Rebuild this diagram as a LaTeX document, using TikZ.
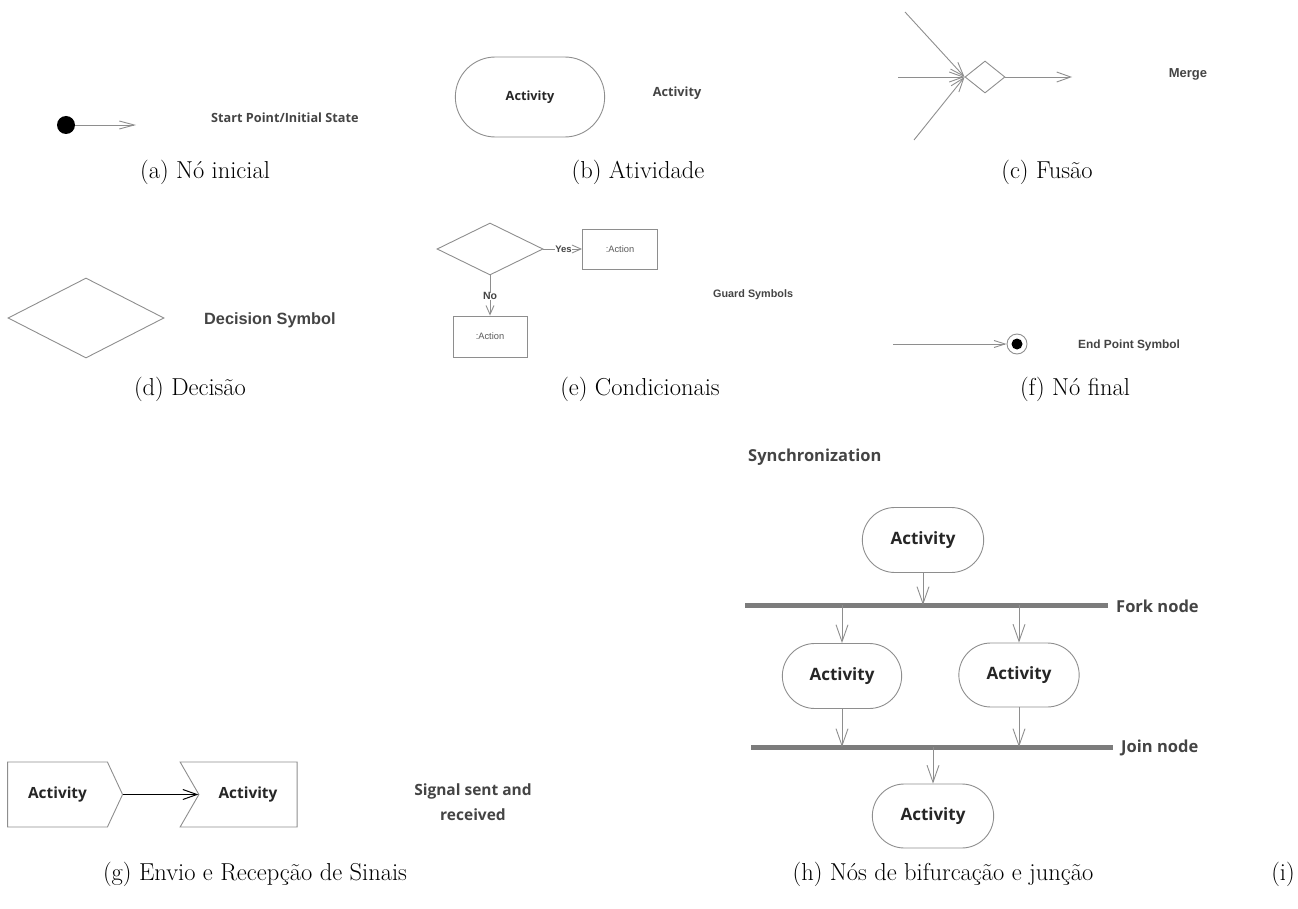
\documentclass[tikz,border=0pt]{standalone}
\usepackage{fontspec}
\usetikzlibrary{arrows.meta,shapes.geometric,shapes.misc,shapes.symbols}
\newfontfamily\uisans{Open Sans}
\newfontfamily\arial{Liberation Sans}
\definecolor{linegray}{HTML}{8E8E8E}
\definecolor{bargray}{HTML}{7C7C7C}
\definecolor{txt}{HTML}{444444}
\definecolor{acttxt}{HTML}{5A5A5A}

\begin{document}
\begin{tikzpicture}[x=1pt,y=-1pt,
  flow/.style={draw=linegray, line width=0.9pt,
    -{Straight Barb[length=14pt,width=10pt,line width=0.9pt]}},
  activity/.style={rounded rectangle, draw=linegray, line width=0.9pt,
    minimum width=#1, text=black!85, font=\uisans\bfseries\fontsize{17}{20}\selectfont},
  activity/.default=128pt,
  lbl/.style={text=txt, font=\uisans\bfseries\fontsize{#1}{#1}\selectfont, inner sep=0pt},
  alb/.style={text=txt, font=\arial\bfseries\fontsize{#1}{#1}\selectfont, inner sep=0pt},
  subcap/.style={font=\fontsize{24.5}{29}\selectfont, inner sep=0pt},
  dia/.style={diamond, draw=linegray, line width=0.9pt, inner sep=0pt},
  actionbox/.style={draw=linegray, line width=0.9pt, minimum width=75pt, minimum height=40pt,
    inner sep=0pt, text=acttxt, font=\arial\fontsize{9.3}{11}\selectfont},
  bar/.style={draw=bargray, line width=5pt},
  sig/.style={signal, draw=linegray, line width=0.9pt, minimum height=65pt,
    inner sep=0pt, text=black!85, font=\uisans\bfseries\fontsize{15.4}{18}\selectfont}
]
\path[use as bounding box] (0,0) rectangle (1298,909);

% (a) initial node
\node[circle, fill=black, minimum size=18pt, inner sep=0pt] (init) at (66,125) {};
\coordinate (initend) at (136,125);
\draw[flow, -{Straight Barb[length=15pt,width=8pt,line width=0.9pt]}] (init) -- (initend);
\node[lbl=12.7, anchor=west] (initlbl) at (211,118) {Start Point/Initial State};
\node[subcap] (capa) at (205,172) {(a) Nó inicial};

% (b) activity
\node[activity=156pt, minimum height=80pt, font=\uisans\bfseries\fontsize{12.7}{15}\selectfont] (actb) at (530,97) {Activity};
\node[lbl=12.7] (actblbl) at (677,93) {Activity};
\node[subcap] (capb) at (638,172) {(b) Atividade};

% (c) merge
\node[dia, minimum width=40pt, minimum height=32pt] (merge) at (985,77) {};
\coordinate (m1) at (905,12);
\coordinate (m2) at (898,77);
\coordinate (m3) at (914,140);
\coordinate (mout) at (1072,77);
\draw[flow] (m1) -- (merge.west);
\draw[flow] (m2) -- (merge.west);
\draw[flow] (m3) -- (merge.west);
\draw[flow] (merge.east) -- (mout);
\node[alb=13] (mergelbl) at (1188,74) {Merge};
\node[subcap] (capc) at (1047,172) {(c) Fusão};

% (d) decision
\node[dia, minimum width=156pt, minimum height=80pt] (dec) at (86,318) {};
\node[alb=16.3, anchor=west] (declbl) at (204,320) {Decision Symbol};
\node[subcap] (capd) at (190,389) {(d) Decisão};

% (e) guards
\node[dia, minimum width=106pt, minimum height=52pt] (guard) at (490,249) {};
\node[actionbox] (yesbox) at (620,249) {:Action};
\node[actionbox, minimum width=74pt, minimum height=41pt] (nobox) at (490,336.5) {:Action};
\draw[flow, -{Straight Barb[length=9pt,width=8pt,line width=0.9pt]}] (guard.east) -- node[fill=white, inner sep=1pt, alb=9.5, pos=0.52] (yes) {Yes} (yesbox.west);
\draw[flow, -{Straight Barb[length=9pt,width=8pt,line width=0.9pt]}] (guard.south) -- node[fill=white, inner sep=1pt, alb=10.5, pos=0.52] (no) {No} (nobox.north);
\node[alb=10.8, anchor=west] (guardlbl) at (713,295) {Guard Symbols};
\node[subcap] (cape) at (640,389) {(e) Condicionais};

% (f) final node
\node[circle, draw=linegray, line width=0.9pt, minimum size=20pt, inner sep=0pt] (final) at (1017,344) {};
\fill[black] (final.center) circle[radius=5.5pt];
\coordinate (finstart) at (893,344);
\draw[flow, -{Straight Barb[length=11pt,width=7pt,line width=0.9pt]}] (finstart) -- (final.west);
\node[alb=11.9, anchor=west] (finlbl) at (1078,345) {End Point Symbol};
\node[subcap] (capf) at (1075,389) {(f) Nó final};

% (g) signals: send (pointed) and receive (notched)
\node[sig, signal to=east, signal pointer angle=130, minimum width=115pt] (send) at (57.5,794.5) {Activity};
\node[sig, signal to=nowhere, signal from=west, signal pointer angle=120, minimum width=117pt] (recv) at (248,794.5) {Activity};
\draw[line width=1.1pt, -{Straight Barb[length=14pt,width=10pt,line width=1pt]}] (send.east) -- (recv.west);
\node[lbl=15.5, align=center, font=\uisans\bfseries\fontsize{15.5}{25}\selectfont] (siglbl) at (473,802) {Signal sent and\\received};
\node[subcap] (capg) at (255,874) {(g) Envio e Recepção de Sinais};

% (h) fork and join
\node[lbl=16.5, anchor=west] (sync) at (748,457) {Synchronization};
\node[activity, minimum height=65pt] (top) at (923,540) {Activity};
\coordinate (forkL) at (745,605);
\coordinate (forkR) at (1108,605);
\draw[bar] (forkL) -- (forkR);
\node[lbl=16.5, anchor=west] (forklbl) at (1116,606) {Fork node};
\node[activity=126pt, minimum height=65pt] (left) at (842,676) {Activity};
\node[activity=127pt, minimum height=64pt] (right) at (1019,675) {Activity};
\coordinate (joinL) at (751,747);
\coordinate (joinR) at (1113,747);
\draw[bar] (joinL) -- (joinR);
\node[lbl=16.5, anchor=west] (joinlbl) at (1121,748) {Join node};
\node[activity, minimum height=64pt] (bottom) at (933,816) {Activity};

\draw[flow, -{Straight Barb[length=17pt,width=12pt,line width=0.9pt]}] (top.south) -- (top.south |- forkL);
\draw[flow, -{Straight Barb[length=17pt,width=12pt,line width=0.9pt]}] (left.north |- forkL) -- (left.north);
\draw[flow, -{Straight Barb[length=17pt,width=12pt,line width=0.9pt]}] (right.north |- forkL) -- (right.north);
\draw[flow, -{Straight Barb[length=17pt,width=12pt,line width=0.9pt]}] (left.south) -- (left.south |- joinL);
\draw[flow, -{Straight Barb[length=17pt,width=12pt,line width=0.9pt]}] (right.south) -- (right.south |- joinL);
\draw[flow, -{Straight Barb[length=17pt,width=12pt,line width=0.9pt]}] (bottom.north |- joinL) -- (bottom.north);
\node[subcap] (caph) at (943,874) {(h) Nós de bifurcação e junção};
\node[subcap] (capi) at (1283,874) {(i)};
\end{tikzpicture}
\end{document}
